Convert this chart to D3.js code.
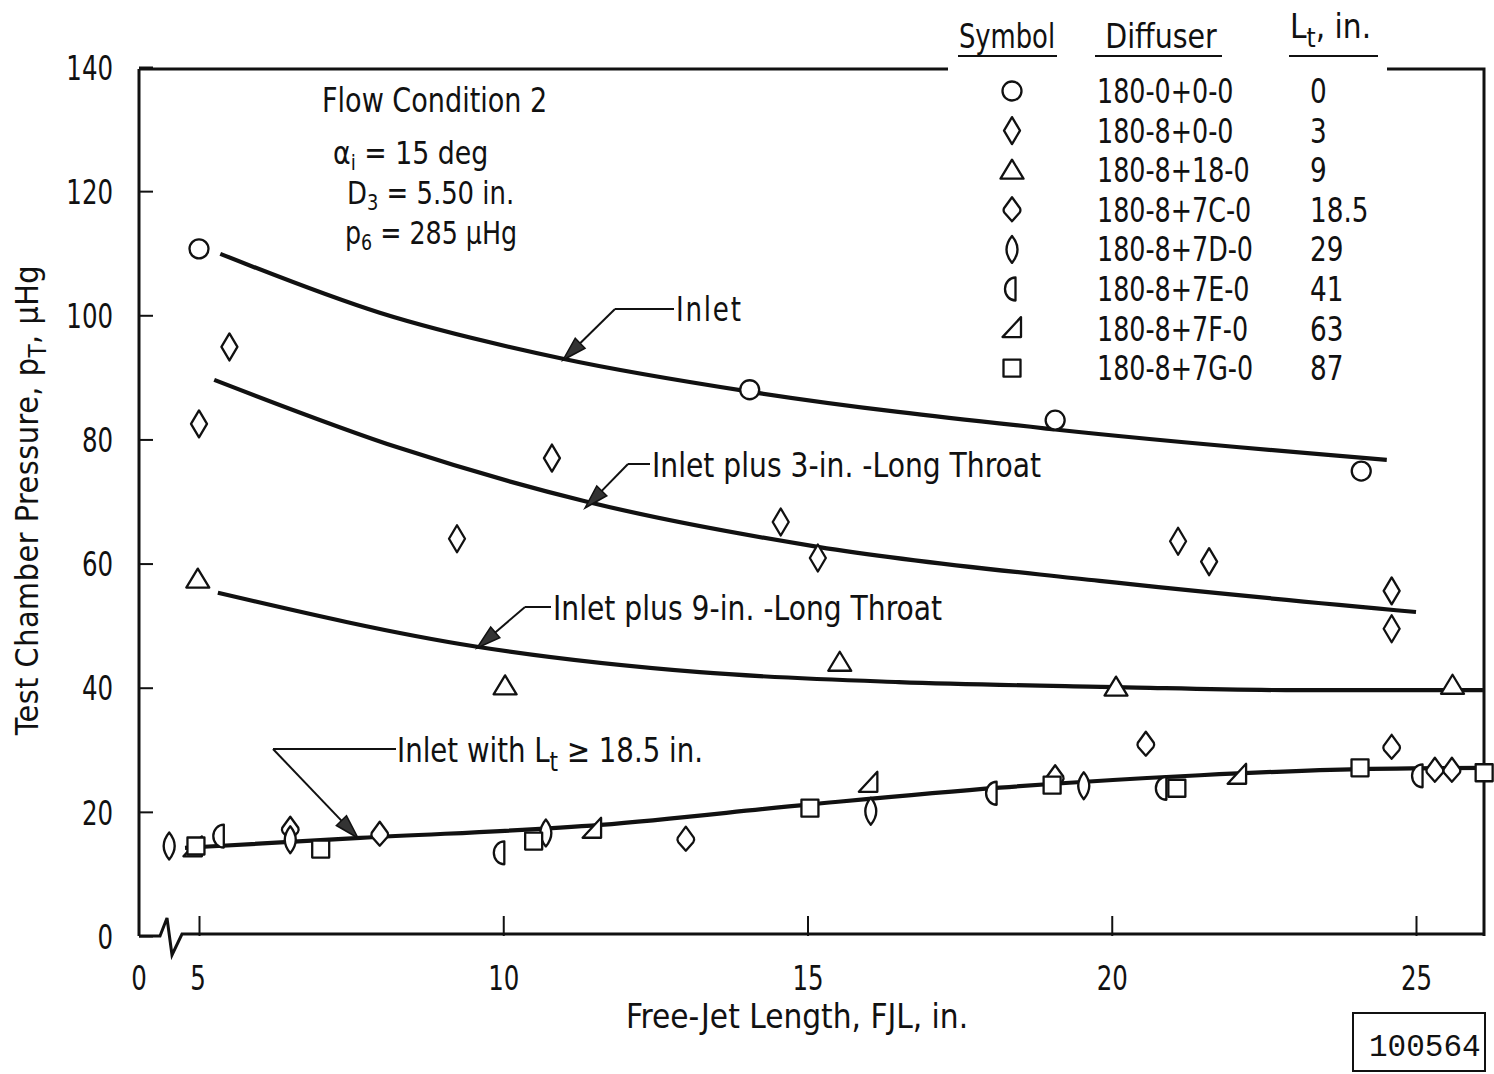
<!DOCTYPE html>
<html><head><meta charset="utf-8">
<script src="https://cdn.jsdelivr.net/npm/d3@7"></script>
<style>
body{margin:0;background:#fff;}
svg text{font-family:"Liberation Sans Narrow","DejaVu Sans Condensed","Roboto Condensed",sans-serif;fill:#111;}
</style></head>
<body>
<svg id="c" width="1494" height="1074"></svg>
<script>
// ---- data ----
const xTicks = [5, 10, 15, 20, 25];
const yTicks = [0, 20, 40, 60, 80, 100, 120, 140];

const diffusers = ["180-0+0-0","180-8+0-0","180-8+18-0","180-8+7C-0","180-8+7D-0","180-8+7E-0","180-8+7F-0","180-8+7G-0"];
const throatLengths = ["0","3","9","18.5","29","41","63","87"];
const symbolTypes = ["circle","diamond","triangle","kite","lens","half","rtri","square"];

const s0_x = [5.0, 14.05, 19.07, 24.1];
const s0_y = [110.7, 88.0, 83.1, 74.9];
const s3_x = [5.5, 5.0, 10.8, 9.24, 14.56, 15.17, 21.09, 21.6, 24.6, 24.6];
const s3_y = [94.9, 82.5, 77.0, 64.0, 66.7, 60.9, 63.6, 60.3, 55.6, 49.5];
const s9_x = [4.98, 10.03, 15.53, 20.07, 25.6];
const s9_y = [57.5, 40.3, 44.1, 40.1, 40.4];
const s7C_x = [6.5, 7.97, 13.0, 19.07, 20.56, 24.6, 25.31, 25.59];
const s7C_y = [17.2, 16.4, 15.6, 25.5, 30.9, 30.4, 26.7, 26.7];
const s7D_x = [4.51, 6.5, 10.7, 16.04, 19.54];
const s7D_y = [14.5, 15.5, 16.6, 20.1, 24.2];
const s7E_x = [5.35, 9.96, 18.05, 20.84, 25.05];
const s7E_y = [16.1, 13.4, 23.0, 23.8, 25.8];
const s7F_x = [4.9, 11.46, 16.0, 22.06];
const s7F_y = [14.2, 17.2, 24.6, 25.9];
const s7G_x = [4.95, 7.0, 10.5, 15.04, 19.02, 21.07, 24.08, 26.12];
const s7G_y = [14.5, 14.0, 15.3, 20.6, 24.3, 23.8, 27.1, 26.3];

const cInlet_x = [5.35, 7.97, 10.98, 14.05, 19.07, 24.52];
const cInlet_y = [109.9, 100.4, 93.0, 87.7, 81.6, 76.7];
const c3_x = [5.25, 8.3, 11.36, 15.17, 19.8, 25.0];
const c3_y = [89.6, 78.6, 70.0, 62.7, 57.2, 52.2];
const c9_x = [5.31, 9.57, 13.23, 16.5, 20.07, 23.1, 26.1];
const c9_y = [55.3, 46.6, 42.5, 40.9, 40.1, 39.6, 39.6];
const cL_x = [4.77, 7.65, 11.6, 15.04, 18.16, 21.45, 24.08, 26.1];
const cL_y = [14.2, 15.8, 17.9, 21.2, 23.9, 25.9, 26.9, 27.1];

// ---- layout ----
const svg = d3.select("#c");
const L = 139, R = 1484, T = 69, B = 936;
const x = d3.scaleLinear().domain([5, 25]).range([199, 1416]);
const y = d3.scaleLinear().domain([0, 140]).range([B, 67]);

// text helper: horizontally condensed text
function txt(x0, y0, size, sx, anchor){
  const g = svg.append("g").attr("transform",`translate(${x0},${y0}) scale(${sx},1)`);
  return g.append("text").attr("font-size",size).attr("text-anchor",anchor||"start");
}

function shapePath(t){
  switch(t){
    case "circle": return "M9.5,0A9.5,9.5 0 1 1 -9.5,0A9.5,9.5 0 1 1 9.5,0Z";
    case "diamond": return "M0,-13.5L8,0L0,13.5L-8,0Z";
    case "triangle": return "M0,-10.5L11.5,8.5L-11.5,8.5Z";
    case "kite": return "M0,-12.5L8,-1.5Q9,1 7.5,3L0,11.5L-7.5,3Q-9,1 -8,-1.5Z";
    case "lens": return "M0,-13.5Q11,0 0,13.5Q-11,0 0,-13.5Z";
    case "half": return "M3.5,-11.5A10.5,11.5 0 0 0 3.5,11.5Z";
    case "rtri": return "M9,-11.5L9,8.5L-9.5,8.5Z";
    case "square": return "M-8.5,-8.5H8.5V8.5H-8.5Z";
  }
}

// frame
const frame = svg.append("g").attr("fill","none").attr("stroke","#111").attr("stroke-width",3);
frame.append("path").attr("d",`M${L},${T}H948`);
frame.append("path").attr("d",`M1387,${T}H${R}V${B}`);
frame.append("path").attr("d",`M${L},${B}V${T}`);
frame.append("path").attr("d",`M${L},${B}H160L167,918L172,955L182,934H${R}`).attr("stroke-linejoin","miter");

// axes
const TS = 0.8;
const yAxis = d3.axisLeft(y).tickValues(yTicks).tickSizeInner(-14).tickSizeOuter(0).tickPadding(26/TS).tickFormat(d3.format("d"));
const gy = svg.append("g").attr("transform",`translate(${L},0)`).call(yAxis);
gy.select(".domain").remove();
gy.selectAll("line").attr("stroke","#111").attr("stroke-width",2);
gy.selectAll(".tick text").attr("transform",`scale(${TS},1)`).attr("x",-26/TS);
gy.selectAll("text").attr("font-size",34).attr("font-family",null).attr("dy","0.36em");

const xAxis = d3.axisBottom(x).tickValues(xTicks).tickSizeInner(-20).tickSizeOuter(0).tickPadding(30);
const gx = svg.append("g").attr("transform",`translate(0,${B})`).call(xAxis);
gx.select(".domain").remove();
gx.selectAll("line").attr("stroke","#111").attr("stroke-width",2);
gx.selectAll("text").attr("font-size",34).attr("font-family",null).attr("dy","0.71em").attr("transform",`scale(${TS},1)`);
gx.selectAll(".tick").filter(d=>d===5).select("text").attr("dx",-2);
txt(L, B+30, 34, TS, "middle").attr("dy","0.71em").text("0");

// axis titles
txt(797, 1028, 33, 1, "middle").text("Free-Jet Length,  FJL,  in.");
const yt = svg.append("text").attr("transform","translate(38,500) rotate(-90)").attr("text-anchor","middle").attr("font-size",32).attr("letter-spacing",0.5);
yt.append("tspan").text("Test Chamber Pressure,  p");
yt.append("tspan").attr("font-size",24).attr("dy",8).text("T");
yt.append("tspan").attr("dy",-8).text(",  μHg");

// curves
const line = d3.line().x(d=>x(d[0])).y(d=>y(d[1])).curve(d3.curveMonotoneX);
const curves = [[cInlet_x,cInlet_y],[c3_x,c3_y],[c9_x,c9_y],[cL_x,cL_y]];
curves.forEach(([xs,ys])=>{
  svg.append("path").attr("d",line(xs.map((v,i)=>[v,ys[i]])))
    .attr("fill","none").attr("stroke","#111").attr("stroke-width",4.2).attr("stroke-linecap","butt");
});

// points
const series = [[s0_x,s0_y],[s3_x,s3_y],[s9_x,s9_y],[s7C_x,s7C_y],[s7D_x,s7D_y],[s7E_x,s7E_y],[s7F_x,s7F_y],[s7G_x,s7G_y]];
series.forEach(([xs,ys],k)=>{
  svg.append("g").selectAll("path").data(xs.map((v,i)=>[v,ys[i]])).join("path")
    .attr("transform",d=>`translate(${x(d[0])},${y(d[1])})`)
    .attr("d",shapePath(symbolTypes[k]))
    .attr("fill","#fff").attr("stroke","#111").attr("stroke-width",2.3).attr("stroke-linejoin","round");
});

// leader lines with arrowheads
function leader(pts, tip){
  svg.append("path").attr("d","M"+pts.map(p=>p.join(",")).join("L"))
    .attr("fill","none").attr("stroke","#111").attr("stroke-width",2);
  const from = pts[pts.length-1];
  const dx = tip[0]-from[0], dy = tip[1]-from[1], len = Math.hypot(dx,dy);
  const ux = dx/len, uy = dy/len;
  const h = 24, w = 7;
  const bx = tip[0]-ux*h, by = tip[1]-uy*h;
  svg.append("path").attr("d",`M${from[0]},${from[1]}L${bx},${by}`).attr("stroke","#111").attr("stroke-width",2);
  svg.append("path").attr("d",`M${tip[0]},${tip[1]}L${bx-uy*w},${by+ux*w}L${bx+uy*w},${by-ux*w}Z`)
    .attr("fill","#333").attr("stroke","#111").attr("stroke-width",1.5);
}
leader([[674,309],[615,309]],[563,360]);
leader([[650,464],[628,464]],[585,508]);
leader([[551,607],[525,607]],[477,648]);
leader([[396,749],[273,749]],[358,838]);

// curve labels
txt(676, 321, 33, 0.88).attr("letter-spacing",2).text("Inlet");
txt(652, 477, 33, 0.95).text("Inlet plus 3-in. -Long Throat");
txt(553, 620, 33, 0.95).text("Inlet plus 9-in. -Long Throat");
const tl = txt(397, 762, 33, 0.93);
tl.append("tspan").text("Inlet with L");
tl.append("tspan").attr("font-size",26).attr("dy",9).text("t");
tl.append("tspan").attr("dy",-9).text(" ≥ 18.5 in.");

// flow condition
txt(322, 112, 34, 0.885).text("Flow Condition 2");
function sublabel(x0,yb,main,sub,rest,sx){
  const t = txt(x0, yb, 32, sx);
  t.append("tspan").text(main);
  t.append("tspan").attr("font-size",22).attr("dy",6).text(sub);
  t.append("tspan").attr("dy",-6).text(rest);
}
sublabel(333,164,"α","i","  = 15 deg",0.93);
sublabel(347,204,"D","3"," = 5.50 in.",0.9);
sublabel(345,244,"p","6","  = 285 μHg",0.88);

// legend
txt(1007, 48, 33, 0.87, "middle").text("Symbol");
txt(1161, 48, 33, 0.96, "middle").text("Diffuser");
const lh = txt(1290, 38, 33, 1);
lh.append("tspan").text("L");
lh.append("tspan").attr("font-size",26).attr("dy",9).text("t");
lh.append("tspan").attr("dy",-9).text(",  in.");
[[958,1057],[1095,1222],[1289,1378]].forEach(([a,b])=>{
  svg.append("line").attr("x1",a).attr("x2",b).attr("y1",56).attr("y2",56).attr("stroke","#111").attr("stroke-width",2);
});
diffusers.forEach((d,i)=>{
  const cy = 91 + i*39.6;
  svg.append("path").attr("transform",`translate(1012,${cy})`).attr("d",shapePath(symbolTypes[i]))
    .attr("fill","#fff").attr("stroke","#111").attr("stroke-width",2.3).attr("stroke-linejoin","round");
  txt(1097, cy+12, 34, 0.83).text(d);
  txt(1310, cy+12, 34, 0.86).text(throatLengths[i]);
});

// id box
svg.append("rect").attr("x",1353).attr("y",1013).attr("width",132).attr("height",58)
  .attr("fill","none").attr("stroke","#111").attr("stroke-width",2);
svg.append("text").attr("x",1369).attr("y",1056).attr("font-size",31)
  .style("font-family","'Liberation Mono','DejaVu Sans Mono',monospace").text("100564");
</script>
</body></html>
